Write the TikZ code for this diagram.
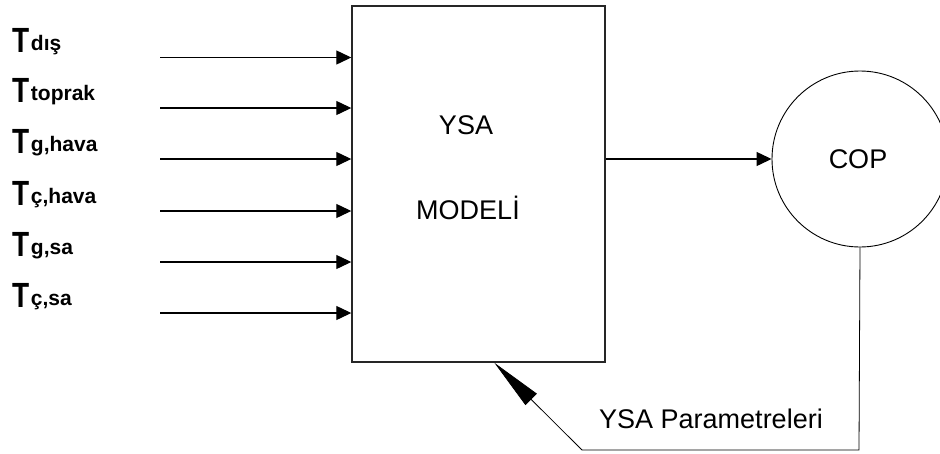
\documentclass[tikz,border=0pt]{standalone}
\usepackage{fontspec}
\setmainfont{Liberation Sans}
\usetikzlibrary{arrows.meta,calc}
\tikzset{
  blockbox/.style={draw=black!85, line width=1.4pt, minimum width=253pt, minimum height=356pt, inner sep=0pt},
  copcircle/.style={draw, circle, line width=0.9pt, minimum size=176pt, inner sep=0pt},
  plain/.style={font=\fontsize{27}{30}\selectfont, inner sep=0pt},
  inlabel/.style={anchor=base west, inner sep=0pt},
  inarrow/.style={line width=1.2pt, -{Triangle[length=15pt,width=14pt]}},
  fbline/.style={line width=0.8pt},
  fbarrow/.style={line width=0.8pt, -{Triangle[length=52pt,width=16pt]}},
}
\newcommand{\bigT}{\scalebox{0.8}[1]{\fontsize{35}{35}\selectfont\bfseries T}}
\newcommand{\subT}[1]{\raisebox{2pt}{\fontsize{21}{21}\selectfont\bfseries #1}}
\begin{document}
\begin{tikzpicture}[x=1pt,y=-1pt]
  \clip (0,0) rectangle (940,453);
  \fill[white] (0,0) rectangle (940,453);

  % model block and its caption
  \node[blockbox] (model) at (478.5,184) {};
  \node[plain] (ysa) at (466,125) {YSA};
  \node[plain] (modeli) at (468,208) {MODELİ};

  % output circle
  \node[copcircle] (cop) at (860,159) {};
  \node[plain] (coptext) at (858,159) {COP};

  % inputs
  \foreach \i/\y/\sub in {1/57.5/dış, 2/108/toprak, 3/159/{g,hava}, 4/211/{ç,hava}, 5/262/{g,sa}, 6/313/{ç,sa}} {
    \node[inlabel] (in\i) at (12,\y-5.5) {\bigT\,\subT{\sub}};
    \coordinate (s\i) at (160,\y);
    \draw[inarrow] (s\i) -- (s\i -| model.west);
  }

  % output to COP
  \draw[inarrow] (model.east |- cop.west) -- (cop.west);

  % feedback path
  \coordinate (fbcorner) at (859,450);
  \coordinate (fbbend) at (582,450);
  \coordinate (fbtip) at ($(model.south west)+(143,0)$);
  \draw[fbline] (cop.south) -- (fbcorner) -- (fbbend);
  \draw[fbarrow] (fbbend) -- (fbtip);
  \node[plain] (param) at (711,419) {YSA Parametreleri};
\end{tikzpicture}
\end{document}
